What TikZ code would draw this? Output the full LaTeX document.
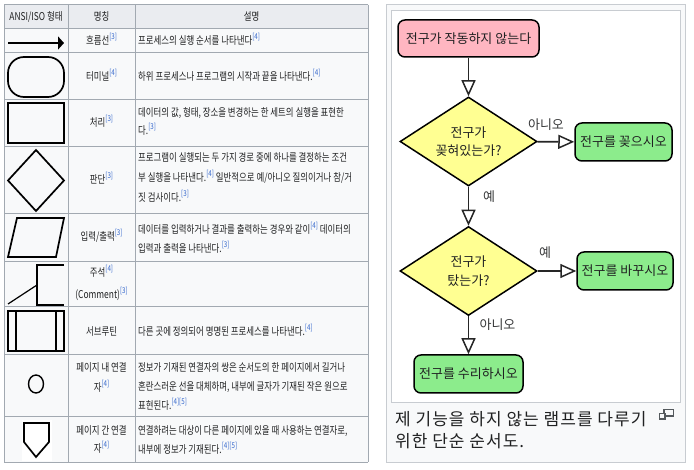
\documentclass[tikz,border=0pt]{standalone}
\usepackage{fontspec}
\setmainfont{Noto Sans CJK KR}
\newfontfamily\krn[FakeStretch=0.78]{Noto Sans CJK KR}
\newfontfamily\capfont[LetterSpace=6]{Noto Sans CJK KR}
\usetikzlibrary{shapes.geometric,arrows.meta}
\definecolor{tblborder}{HTML}{A2A9B1}
\definecolor{tblhead}{HTML}{EAECF0}
\definecolor{tblbody}{HTML}{F8F9FA}
\definecolor{txt}{HTML}{202122}
\definecolor{linkblue}{HTML}{3366CC}
\definecolor{thumbborder}{HTML}{C8CCD1}
\definecolor{pinkfill}{HTML}{FFB6C1}
\definecolor{yellowfill}{HTML}{FFFF92}
\definecolor{greenfill}{HTML}{8CEC8C}
\definecolor{icongray}{HTML}{54595D}
\newcommand\rf[1]{\raisebox{0.45em}{\fontsize{8}{8}\selectfont\color{linkblue}[#1]}}
\tikzset{
  grid/.style={draw=tblborder, line width=1pt},
  sym/.style={draw=black, line width=1.7pt},
  bodytxt/.style={anchor=base west, inner sep=0pt, text=txt, font=\krn\fontsize{10.8}{12}\selectfont},
  nametxt/.style={anchor=base, inner sep=0pt, text=txt, font=\krn\fontsize{10.8}{12}\selectfont},
  fcbox/.style={draw=black, line width=1.5pt, rounded corners=7pt, inner sep=0pt, text=txt,
    font=\fontsize{13}{16}\selectfont},
  startbox/.style={fcbox, fill=pinkfill, minimum width=141pt, minimum height=37pt},
  actbox/.style={fcbox, fill=greenfill, minimum height=38pt},
  decbox/.style={diamond, draw=black, line width=1.5pt, fill=yellowfill, aspect=1.54, inner sep=0pt,
    minimum width=137pt, minimum height=89pt, align=center, text=txt,
    font=\fontsize{13}{18.5}\selectfont},
  flow/.style={draw=black!85, line width=1.7pt, -{Triangle[length=16pt,width=14pt,fill=white,line width=1.5pt]}},
  lbl/.style={inner sep=0pt, text=txt!90, font=\fontsize{13}{16}\selectfont},
  captxt/.style={anchor=base west, inner sep=0pt, text=txt, font=\capfont\fontsize{17}{20}\selectfont},
}
\begin{document}
\begin{tikzpicture}[x=1pt,y=-1pt]
\useasboundingbox (0,0) rectangle (694,470);
\fill[white] (0,0) rectangle (694,470);

% ---------------- table ----------------
\fill[tblbody] (4,29) rectangle (368,462);
\fill[tblhead] (4,5) rectangle (368,29);
\fill[white] (22,420) rectangle (52,461);
\foreach \yy in {5,29,53,100,147,214,262,307,355,417,462}
  \draw[grid] (4,\yy) -- (368,\yy);
\foreach \xx in {4,68,135,368}
  \draw[grid] (\xx,5) -- (\xx,462);

% header
\node[nametxt] (h1) at (36,21) {ANSI/ISO 형태};
\node[nametxt] (h2) at (101.5,21) {명칭};
\node[nametxt] (h3) at (251.5,21) {설명};

% symbols
\draw[sym, -{Triangle[length=6pt,width=13pt]}] (8,43) -- (64,43);
\draw[sym, rounded corners=16pt] (8,57) rectangle (64,97);
\draw[sym] (8,103) rectangle (64,143);
\draw[sym] (36,150) -- (64,180.5) -- (36,211) -- (8,180.5) -- cycle;
\draw[sym] (17,218) -- (64,218) -- (56,257) -- (8,257) -- cycle;
\draw[sym, line width=1.4pt] (64,265) -- (37,265) -- (37,305) -- (64,305);
\draw[sym, line width=1.2pt] (8,304) -- (37,285);
\draw[sym] (8,311) rectangle (64,351);
\draw[sym, line width=1.4pt] (16,311) -- (16,351);
\draw[sym, line width=1.4pt] (56,311) -- (56,351);
\draw[sym, line width=1.4pt] (36,384) ellipse (7.5 and 9);
\draw[sym] (24,423) -- (49,423) -- (49,442) -- (36,457) -- (24,442) -- cycle;

% names
\node[nametxt] (n1) at (101.5,44.8) {흐름선\rf{3}};
\node[nametxt] (n2) at (101.5,80.8) {터미널\rf{4}};
\node[nametxt] (n3) at (101.5,126.8) {처리\rf{3}};
\node[nametxt] (n4) at (101.5,183.8) {판단\rf{3}};
\node[nametxt] (n5) at (101.5,240.8) {입력/출력\rf{3}};
\node[nametxt] (n6a) at (101.5,276.8) {주석\rf{4}};
\node[nametxt] (n6b) at (101.5,298.8) {(Comment)\rf{3}};
\node[nametxt] (n7) at (101.5,335.8) {서브루틴};
\node[nametxt] (n8a) at (101.5,371.8) {페이지 내 연결};
\node[nametxt] (n8b) at (101.5,391.8) {자\rf{4}};
\node[nametxt] (n9a) at (101.5,434.8) {페이지 간 연결};
\node[nametxt] (n9b) at (101.5,452.8) {자\rf{4}};

% descriptions
\node[bodytxt] (t1) at (138,44.8) {프로세스의 실행 순서를 나타낸다\rf{4}};
\node[bodytxt] (t2) at (138,80.8) {하위 프로세스나 프로그램의 시작과 끝을 나타낸다.\rf{4}};
\node[bodytxt] (t3a) at (138,116.8) {데이터의 값, 형태, 장소을 변경하는 한 세트의 실행을 표현한};
\node[bodytxt] (t3b) at (138,134.8) {다.\rf{3}};
\node[bodytxt] (t4a) at (138,161.8) {프로그램이 실행되는 두 가지 경로 중에 하나를 결정하는 조건};
\node[bodytxt] (t4b) at (138,181.8) {부 실행을 나타낸다.\rf{4} 일반적으로 예/아니오 질의이거나 참/거};
\node[bodytxt] (t4c) at (138,201.8) {짓 검사이다.\rf{3}};
\node[bodytxt] (t5a) at (138,233.8) {데이터를 입력하거나 결과를 출력하는 경우와 같이\rf{4} 데이터의};
\node[bodytxt] (t5b) at (138,252.8) {입력과 출력을 나타낸다.\rf{3}};
\node[bodytxt] (t7) at (138,335.8) {다른 곳에 정의되어 명명된 프로세스를 나타낸다.\rf{4}};
\node[bodytxt] (t8a) at (138,371.8) {정보가 기재된 연결자의 쌍은 순서도의 한 페이지에서 길거나};
\node[bodytxt] (t8b) at (138,390.8) {혼란스러운 선을 대체하며, 내부에 글자가 기재된 작은 원으로};
\node[bodytxt] (t8c) at (138,409.8) {표현된다.\rf{4}\rf{5}};
\node[bodytxt] (t9a) at (138,434.8) {연결하려는 대상이 다른 페이지에 있을 때 사용하는 연결자로,};
\node[bodytxt] (t9b) at (138,453.8) {내부에 정보가 기재된다.\rf{4}\rf{5}};

% ---------------- flowchart thumb ----------------
\draw[thumbborder, fill=tblbody, line width=1pt] (386,5) rectangle (685,462);
\draw[thumbborder, fill=white, line width=1pt] (391,11) rectangle (680,403);

\node[startbox] (s) at (468.5,38.5) {전구가 작동하지 않는다};
\node[decbox] (d1) at (468.5,141.5) {전구가\\꽂혀있는가?};
\node[actbox, minimum width=97pt] (a1) at (623.5,142) {전구를 꽂으시오};
\node[decbox] (d2) at (468.5,271) {전구가\\탔는가?};
\node[actbox, minimum width=96pt] (a2) at (625,271) {전구를 바꾸시오};
\node[actbox, minimum width=109pt] (a3) at (468.5,374) {전구를 수리하시오};

\draw[flow] (s) -- (d1);
\draw[flow] (d1) -- (a1);
\draw[flow] (d1) -- (d2);
\draw[flow] (d2) -- (a2);
\draw[flow] (d2) -- (a3);

\node[lbl] (l1) at (546,125) {아니오};
\node[lbl] (l2) at (489,197) {예};
\node[lbl] (l3) at (545,253) {예};
\node[lbl] (l4) at (497.5,324.5) {아니오};

\node[captxt] (c1) at (395,426) {제 기능을 하지 않는 램프를 다루기};
\node[captxt] (c2) at (395,448) {위한 단순 순서도.};

% magnify icon
\draw[icongray, line width=1.2pt] (664,409.5) rectangle (673.5,416);
\draw[icongray, fill=tblbody, line width=1.2pt] (659.5,413.5) rectangle (665,419);
\end{tikzpicture}
\end{document}
